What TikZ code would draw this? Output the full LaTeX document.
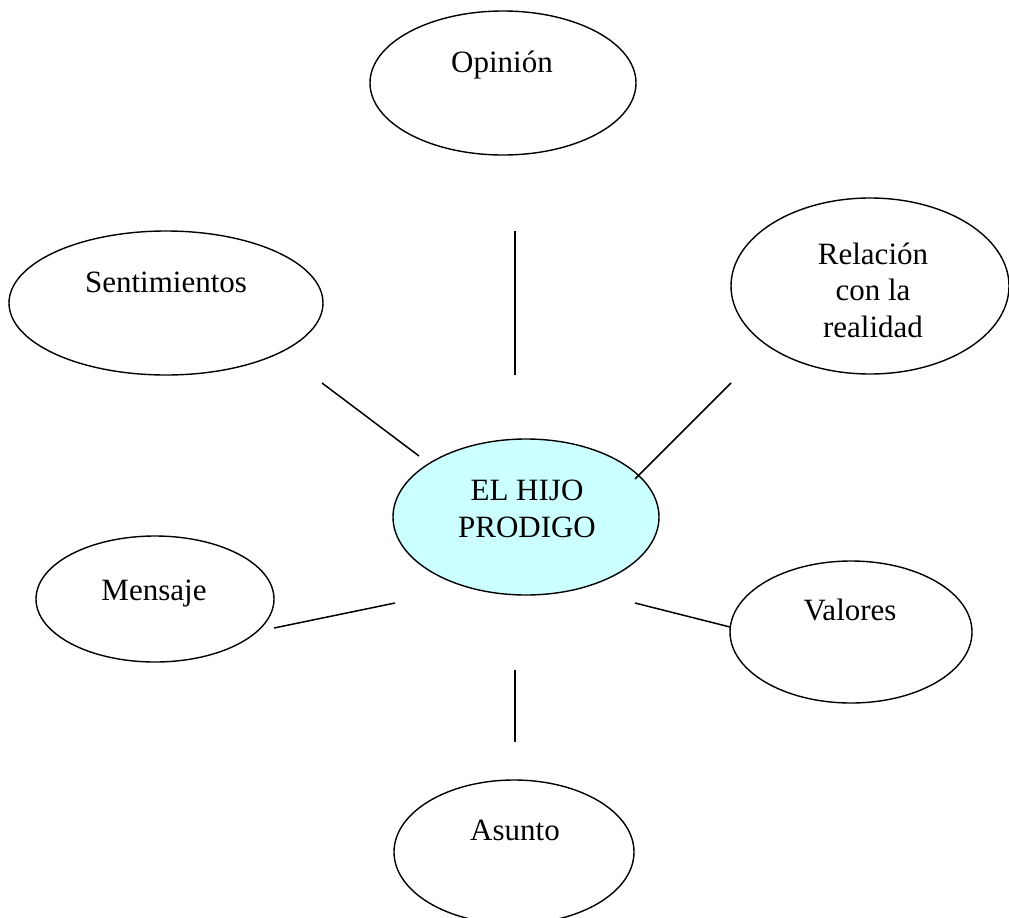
\documentclass[tikz,border=0pt]{standalone}
\usepackage{fontspec}
\setmainfont{Liberation Serif}
\usetikzlibrary{shapes.geometric}
\definecolor{celeste}{HTML}{CCFFFF}

\begin{document}
\begin{tikzpicture}[x=1pt,y=-1pt]
	\tikzstyle{every node}=[font=\fontsize{31}{36.5}\selectfont]
	\tikzstyle{globo}=[draw, ellipse, line width=1.4pt, inner sep=0pt]
	\tikzstyle{texto}=[inner sep=0pt, align=center]
	\tikzstyle{linea}=[line width=1.5pt]
	\useasboundingbox (0,0) rectangle (1009,918);
	% globos
	\node[globo, minimum width=266, minimum height=144] (opinion) at (503,83) {};
	\node[globo, minimum width=314, minimum height=144] (sentim) at (166,303) {};
	\node[globo, minimum width=278, minimum height=176] (relacion) at (870,286) {};
	\node[globo, fill=celeste, minimum width=266, minimum height=156] (hijo) at (526,517) {};
	\node[globo, minimum width=238, minimum height=126] (mensaje) at (155,599) {};
	\node[globo, minimum width=242, minimum height=142] (valores) at (851,632) {};
	\node[globo, minimum width=240, minimum height=144] (asunto) at (514,852) {};
	% textos
	\node[texto, anchor=base] (topinion) at (502,72) {Opinión};
	\node[texto, anchor=base] (tsentim) at (166,292) {Sentimientos};
	\node[texto] (trelacion) at (873,290) {Relación\\con la\\realidad};
	\node[texto] (thijo) at (527,509) {EL HIJO\\PRODIGO};
	\node[texto, anchor=base] (tmensaje) at (154,600) {Mensaje};
	\node[texto, anchor=base] (tvalores) at (850,620) {Valores};
	\node[texto, anchor=base] (tasunto) at (515,840) {Asunto};
	% lineas
	\coordinate (op1) at (515,231);
	\coordinate (op2) at (515,375);
	\coordinate (se1) at (322,383);
	\coordinate (se2) at (419,456);
	\coordinate (re1) at (731,383);
	\coordinate (re2) at (635,479);
	\coordinate (me1) at (274,628);
	\coordinate (me2) at (395,603);
	\coordinate (va1) at (635,603);
	\coordinate (va2) at (730,627);
	\coordinate (as1) at (515,670);
	\coordinate (as2) at (515,742);
	\draw[linea] (op1) -- (op2);
	\draw[linea] (se1) -- (se2);
	\draw[linea] (re1) -- (re2);
	\draw[linea] (me1) -- (me2);
	\draw[linea] (va1) -- (va2);
	\draw[linea] (as1) -- (as2);
\end{tikzpicture}
\end{document}
